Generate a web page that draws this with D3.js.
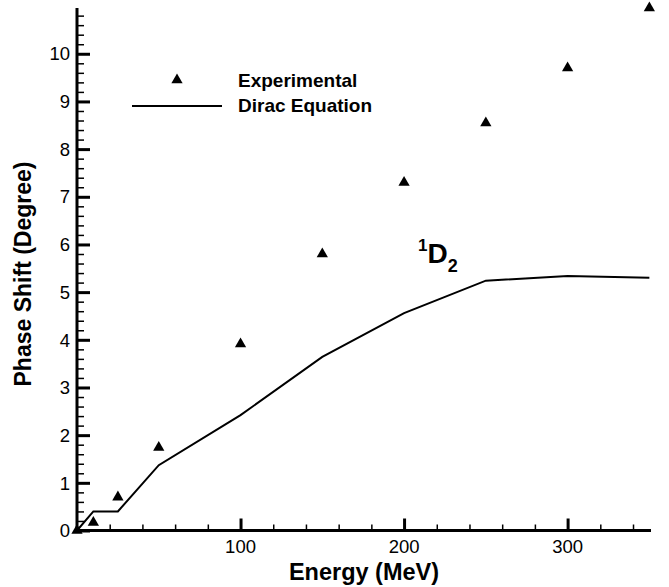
<!DOCTYPE html>
<html>
<head>
<meta charset="utf-8">
<script src="https://cdn.jsdelivr.net/npm/d3@7"></script>
<style>
  html, body { margin: 0; padding: 0; background: #fff; }
  svg { display: block; font-family: "Liberation Sans", Arial, Helvetica, sans-serif; }
</style>
</head>
<body>
<svg id="chart" width="669" height="587"></svg>
<script>
// 1D2 phase shift vs. lab energy
const expEnergy = [0, 10, 25, 50, 100, 150, 200, 250, 300, 350];
const expPhase  = [0, 0.17, 0.70, 1.74, 3.91, 5.80, 7.30, 8.55, 9.70, 10.96];

const diracEnergy = [0, 10, 25, 50, 100, 150, 200, 250, 300, 350];
const diracPhase  = [0, 0.40, 0.40, 1.37, 2.42, 3.64, 4.56, 5.24, 5.34, 5.30];

const xTickLabels = [100, 200, 300];
const yTickLabels = [0, 1, 2, 3, 4, 5, 6, 7, 8, 9, 10];

const legendLabels = ["Experimental", "Dirac Equation"];

const svg = d3.select("#chart");

const x = d3.scaleLinear().domain([0, 351]).range([77, 651]);
const y = d3.scaleLinear().domain([0, 10.96]).range([530.5, 8]);

const xMinor = d3.range(0, 351, 20).filter(v => v % 100 !== 0);
const yMinor = d3.range(0, 10.95, 0.2).map(v => +v.toFixed(1)).filter(v => Math.abs(v - Math.round(v)) > 1e-6);

// Inward-pointing ticks: minor ones first, then major ones
const xAxisMinor = d3.axisTop(x).tickValues(xMinor).tickSize(6).tickFormat("");
const xAxisMajor = d3.axisTop(x).tickValues(xTickLabels).tickSize(12).tickFormat("");
const yAxisMinor = d3.axisRight(y).tickValues(yMinor).tickSize(7).tickFormat("");
const yAxisMajor = d3.axisRight(y).tickValues(yTickLabels).tickSize(13).tickFormat("");

function styleAxis(g, w) {
  g.select(".domain").remove();
  g.selectAll(".tick line").attr("stroke", "#000").attr("stroke-width", w);
}

svg.append("g").attr("transform", `translate(0,${y(0)})`).call(xAxisMinor).call(g => styleAxis(g, 1.5));
svg.append("g").attr("transform", `translate(0,${y(0)})`).call(xAxisMajor).call(g => styleAxis(g, 3));
svg.append("g").attr("transform", `translate(${x(0)},0)`).call(yAxisMinor).call(g => styleAxis(g, 1.5));
svg.append("g").attr("transform", `translate(${x(0)},0)`).call(yAxisMajor).call(g => styleAxis(g, 3));

// Axis lines
svg.append("line")
  .attr("x1", x(0) - 1.5).attr("x2", x(351))
  .attr("y1", y(0)).attr("y2", y(0))
  .attr("stroke", "#000").attr("stroke-width", 3);
svg.append("line")
  .attr("x1", x(0)).attr("x2", x(0))
  .attr("y1", y(0) + 1.5).attr("y2", y(10.96))
  .attr("stroke", "#000").attr("stroke-width", 3);

// Tick labels
svg.append("g").selectAll("text").data(xTickLabels).join("text")
  .attr("x", d => x(d)).attr("y", 553)
  .attr("text-anchor", "middle")
  .attr("font-size", 18.5)
  .text(d => d);

svg.append("g").selectAll("text").data(yTickLabels).join("text")
  .attr("x", 70).attr("y", d => y(d) + 6.7)
  .attr("text-anchor", "end")
  .attr("font-size", 18.5)
  .text(d => d);

// Axis titles
svg.append("text")
  .attr("x", 364).attr("y", 580)
  .attr("text-anchor", "middle")
  .attr("font-size", 23.5).attr("font-weight", "bold")
  .text("Energy (MeV)");

svg.append("text")
  .attr("transform", `translate(31,274) rotate(-90)`)
  .attr("text-anchor", "middle")
  .attr("font-size", 23).attr("font-weight", "bold")
  .text("Phase Shift (Degree)");

// Dirac equation curve
const line = d3.line().x(d => x(d[0])).y(d => y(d[1]));
svg.append("path")
  .datum(d3.zip(diracEnergy, diracPhase))
  .attr("d", line)
  .attr("fill", "none")
  .attr("stroke", "#000")
  .attr("stroke-width", 2)
  .attr("stroke-linejoin", "miter");

// Experimental points
const tri = d3.symbol().type(d3.symbolTriangle).size(55);
svg.append("g").selectAll("path").data(d3.zip(expEnergy, expPhase)).join("path")
  .attr("d", tri)
  .attr("transform", d => `translate(${x(d[0])},${y(d[1])})`)
  .attr("fill", "#000");

// Legend
svg.append("path").attr("d", tri).attr("transform", "translate(177,80)").attr("fill", "#000");
svg.append("line").attr("x1", 132).attr("x2", 222).attr("y1", 106).attr("y2", 106)
  .attr("stroke", "#000").attr("stroke-width", 2);
svg.append("g").selectAll("text").data(legendLabels).join("text")
  .attr("x", 238).attr("y", (d, i) => 87 + i * 25)
  .attr("font-size", 19).attr("font-weight", "bold")
  .text(d => d);

// State label 1D2
const lbl = svg.append("text").attr("x", 418).attr("y", 263).attr("font-weight", "bold");
lbl.append("tspan").attr("font-size", 17).attr("dy", -12).text("1");
lbl.append("tspan").attr("font-size", 28).attr("dy", 12).text("D");
lbl.append("tspan").attr("font-size", 18).attr("dy", 9).text("2");
</script>
</body>
</html>
